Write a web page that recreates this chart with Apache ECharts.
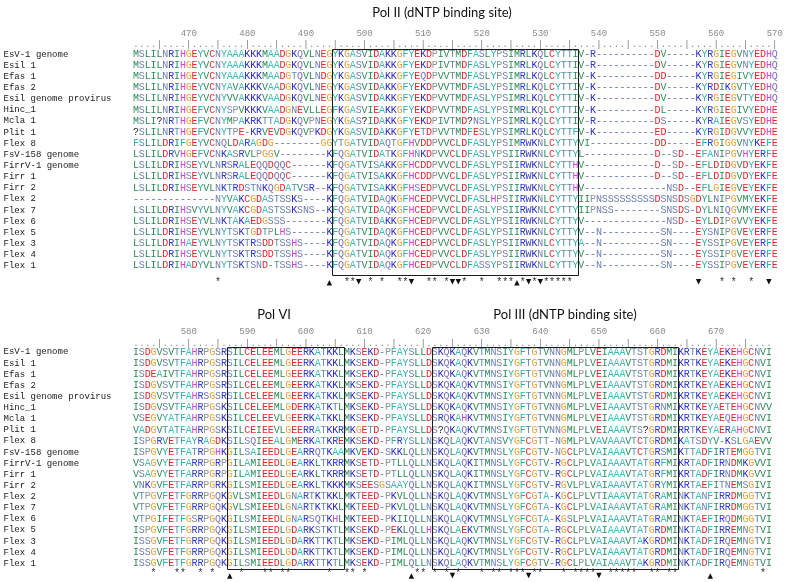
<!DOCTYPE html>
<html><head><meta charset="utf-8">
<script src="https://cdn.jsdelivr.net/npm/echarts@6/dist/echarts.min.js"></script>
<style>html,body{margin:0;padding:0;background:#fff}#c{width:787px;height:582px}</style>
</head><body><div id="c"></div>
<script>
// ---------------- data ----------------
const topNames = ["EsV-1 genome","Esil 1","Efas 1","Efas 2","Esil genome provirus","Hinc_1","Mcla 1","Plit 1","Flex 8","FsV-158 genome","FirrV-1 genome","Firr 1","Firr 2","Flex 2","Flex 7","Flex 6","Flex 5","Flex 3","Flex 4","Flex 1"];
const bottomNames = ["EsV-1 genome","Esil 1","Efas 1","Efas 2","Esil genome provirus","Hinc_1","Mcla 1","Plit 1","Flex 8","FsV-158 genome","FirrV-1 genome","Firr 1","Firr 2","Flex 2","Flex 7","Flex 6","Flex 5","Flex 3","Flex 4","Flex 1"];

const topSeqs = [
"MSLILNRIHGEYVCNYAAAKKKMAADGKQVLNEGYKGASVIDAKKGFYEKDPIVTMDFASLYPSIMRLKQLCYTTIV-R----------DV-----KYRGIEGVNYEDHQ",
"MSLILNRIHGEYVCNYAAAKKKMAADGKQVLNEGYKGASVIDAKKGFYEKDPIVTMDFASLYPSIMRLKQLCYTTIV-R----------DV-----KYRGIEGVNYEDHQ",
"MSLILNRIHGEYVCNYAAAKKKMAADGTQVLNDGYKGASVIDAKKGFYEQDPVVTMDFASLYPSIMRLKQLCYTTIV-K----------DD-----KYRGIEGIVYEDHQ",
"MSLILNRIHGEYVCNYAVAKKKVAADGKQVLNEGYKGASVIDAKKGFYEKDPVVTMDFASLYPSIMRLKQLCYTTIV-K----------DV-----KYRDIKGVTYEDHQ",
"MSLILNRIHGEYVCNYVVAKKKVAADGKQVLNEGYKGASVIDAKKGFYEKDPVVTMDFASLYPSIMRLKQLCYTTIV-K----------DV-----KYRGIEGVTYEDHQ",
"MSLILNRIHGEFVCNYSPVKKKVAADGNEVLLEGFKGASVIEAKKGFYEKDPVVTMDFASLYPSIMRLKQLCYTTIV-K----------DL-----KYRGIEGIVYEDHE",
"MSLI?NRTHGEFVCNYMPAKRKTTADGKQVPNEGYKGAS?IDAKKGFYEKDPIVTMD?NSLYPSIMRLKQLCYTTIV-R----------DS-----KYRAIEGVSYEDHE",
"?SLILNRTHGEFVCNYTPE-KRVEVDGKQVPKDGYKGASVIDAKKGFYETDPVVTMDFESLYPSIMRLKQLCYTTFV-K----------ED-----KYRGIDGVVYEDHE",
"FSLILDRIFGEYVCNQLDARAGDG--------GGYTGATVIDAQTGFHVDDPVVCLDFASLYPSIMRWKNLCYTTYVI-----------DD-----EFRGIGGVNYKEFE",
"LSLILDRVHGEFVCNKASRVLPGGV--------KFQGATVIDATKGFHNKDPVVCLDFASLYPSIIRWKNLCYTTYL------------D--SD--EFANIPGVHYERFE",
"LSLILDRIHSEYVLNRSRALEQQDQQC------KFQGATVISAKKGFHCDDPVVCLDFASLYPSIIRWKNLCYTTHV------------D--SD--EFLDIDGVDYEKFE",
"LSLILDRIHSEYVLNRSRALEQQDQQC------KFQGATVISAKKGFHCDDPVVCLDFASLYPSIIRWKNLCYTTHV------------D--SD--EFLDIDGVDYEKFE",
"LSLILDRIHSEYVLNKTRDSTNKQGDATVSR--KFQGATVISAKKGFHSEDPVVCLDFASLYPSIIRWKNLCYTTHV--------------NSD--EFLGIEGVEYEKFE",
"--------------NYVAKCGDASTSSKS----KFQGATVIDAQKGFHCEDPVVCLDFASLHPSIIRWKNLCYTTYIIPNSSSSSSSSSDSNSDSGDYLNIPGVMYEKFE",
"LSLILDRIHSVYVLNYVAKCGDASTSSKSNS--KFQGATVIDAQKGFHCEDPVVCLDFASLYPSIIRWKNLCYTTYIIPNSS--------SNSDS-DYLNIQGVMYEKFE",
"LSLILDRIHSEYVLNKTAKAEDGSSS-------KFQGATVIDAKKGFHCEDPVVCLDFASLYPSIIRWKNLCYTTYV--------------NSD--EYLDIPGVVYEKFE",
"LSLILDRIHSEYVLNYTSKTGDTPLHS------KFQGATVIDAQKGFHCEDPVVCLDFASLYPSIIRWKNLCYTTYV--N----------SN----EYSNIPGVEYERFE",
"LSLILDRIHAEYVLNYTSKTRSDDTSSHS----KFQGATVIDAQKGFHCEDPVVCLDFASLYPSIIRWKNLCYTTYA--N----------SN----EYSSIPGVEYERFE",
"LSLILDRIHSEYVLNYTSKTRSDDTSSHS----KFQGATVIDAQKGFHCEDPVVCLDFASLYPSIIRWKNLCYTTYV--N----------SN----EYSSIPGVEYERFE",
"LSLILDRIHADYVLNYTSKTSND-TSSHS----KFQGATVIDAQKGFHCEDPVVCLDFASSYPSIIRWKNLCYTTYV--N----------SN----EYSSIPGVEYERFE"
];

const bottomSeqs = [
"ISDGVSVTFAHRPGSRSILCELEEMLGEERKATKKLMKSEKD-PFAYSLLDSKQKAQKVTMNSIYGFTGTVNNGMLPLVEIAAAVTSTGRDMIKRTKEYAEKEHGCNVI",
"ISDGVSVTFAHRPGSRSILCELEEMLGEERKATKKLMKSEKD-PFAYSLLDSKQKAQKVTMNSIYGFTGTVNNGMLPLVEIAAAVTSTGRDMIKRTKEYAEKEHGCNVI",
"ISDEAIVTFAHRPGSRSILCELEEMLGEERKATKKLMKSEKD-PFAYSLLDSKQKAQKVTMNSIYGFTGTVNNGMLPLVEIAAAVTSTGRDMIKRTKEYAEKEHGCNVI",
"ISDGVSVTFAHRPGSRSILCELEEMLGEERKATKKLMKSEKD-PFAYSLLDSKQKAQKVTMNSIYGFTGTVNNGMLPLVEIAAAVTSTGRDMIKRTKEYAEKEHGCNVI",
"ISDGVSVTFAHRSGSRSILCELEEMLGEERKATKKLMKSEKD-PFAYSLLDSKQKAQKVTMNSIYGFTGTVNNGMLPLVEIAAAVTSTGRDMIKRTKEYAEKEHGCNVI",
"ISDGVSVTFAHRPGSKSILCELEEMLGDERKATKTLMKSEKD-PFAYSLLDSKQKAQKVTMNSIYGFTGTVNNGMLPLVEIAAAVTSTGRNMIKRTKEYAETEHGCNVV",
"VSEGVYATFAHRPGSKSILCELEEVLGEERKATKKLMKSEKD-PFAYSLLDSRQKAHKVTMNSIYGFTGTVNNGMLPLVEIAAAVTSTGRDMIKRTKEYAEQEHGCNVI",
"VADGVTATFAHRPGSKSILCEIEEVLGEERRATKKRMKGETD-PFAYSLLDS?QKAQKVTMNSIYGFTGTVNNGMLPLVEIAAAVTS?GRDMIRRTKEYAERAHGCNVI",
"ISPGRVETFAYRAGDKSILSQIEEALGMERKATKREMKSEKD-PFRYSLLNSKQLAQKVTANSVYGFCGTT-NGMLPLVAVAAAVTCTGRDMIKATSDYV-KSLGAEVV",
"ISPGVYETFATRPGHKGILSAIEEDLGEARRQTKAAMKVEKD-SKKLQLLNSKQLAQKVTMNSLYGFCGTV-NGCLPLVAIAAAVTCTGRSMIKTTADFIRTEMGGTVI",
"VSAGVYETFARRPGRPGILAMIEEDLGEARKLTKRRMKSETD-PTLLQLLNSKQLAQKITMNSLYGFCGTV-RGCLPLVAIAAAVTATGRFMIKRTADFIRNDMKGVVI",
"VSAGVYETFARRPGRPGILAMIEEDLGEARKLTKRRMKSETD-PTLLQLLNSKQLAQKITMNSLYGFCGTV-RGCLPLVAIAAAVTATGRFMIKRTADFIRNDMKGVVI",
"VNKGVFETFARRPGRKGILSMIEEDLGEARKLTKKKMKSEESGSAAYQLLNSKQLAQKITMNSLYGFCGTV-RGVLPLVAIAAAVTATGRYMIKRTAEFITNEMSGIVI",
"VTPGVFETFGRRPGQKGVLSMIEEDLGNARTKTKKLMKTEED-PKVLQLLNSKQLAQKVTMNSLYGFCGTA-KGCLPLVTIAAAVTATGRAMINKTANFIRRDMGGTVI",
"VTPGVFETFGRRPGQKGVLSMIEEDLGNARTKTKKLMKTEED-PKVLQLLNSKQLAQKVTMNSLYGFCGTA-KGCLPLVAIAAAVTATGRAMINKTANFIRRDMGGTVI",
"VTPGIFETFGSRPGQKGILSMIEEDLGNARSQTKHLMKTEED-PKIIQLLNSKQLAQKVTMNSLYGFCGTA-KGSLPLVAIAAAVTATGRAMINKTAEFIRQDMGGTVI",
"ISPGVFETFGRRPGQKGILSMIEEDLGDARKSTKTLMKSEKD-PEKLQLLHSKQLAEKVTMNSLYGFCGTA-RGCLPLVAIAAAVTATGRDMINKTADFIRREMNGTVI",
"ISSGVFETFGRRPGQKGILSMIEEDLGDARKTTKTLMKSEKD-PIMLQLLNSKQLAQKVTMNSLYGFCGTV-RGCLPLVAIAAAVTAKGRDMINKTADFIRQEMNGTVI",
"ISSGVFETFGRRPGQKGILSMIEEDLGDARKTTKTLMKSEKD-PIMLQLLNSKQLAQKVTMNSLYGFCGTV-RGCLPLVAIAAAVTATGRDMINKTADFIRQEMNGTVI",
"ISSGVFETFGRRPGQKGILSMIEEDLGDARKTTKTLMKSEKD-PIMLQLLNSKQLAQKVTMNSLYGFCGTV-RGCLPLVAIAAAVTAKGRDMINKTADFIRQEMNGTVI"
];

const topStart = 461, bottomStart = 571;
const topRulerLen = 110, bottomRulerLen = 109;
const topTicks = [470,480,490,500,510,520,530,540,550,560,570];
const bottomTicks = [580,590,600,610,620,630,640,650,660,670];

const topStars = [475,497,498,501,503,506,507,511,512,514,517,520,523,524,525,527,529,531,532,533,534,535,561,563,566];
const topUp = [494,526];
const topDown = [499,508,515,516,528,530,557,569];
const bottomStars = [574,578,579,582,584,589,593,594,596,597,604,607,608,610,619,620,622,624,626,630,632,633,635,636,637,639,640,644,646,647,648,649,652,653,654,655,656,659,660,662,663,678];
const bottomUp = [587,618,669];
const bottomDown = [625,638,650];

const topBoxes = [[495,536]];
const bottomBoxes = [[587,606],[622,663]];

const titleTop = "Pol II (dNTP binding site)";
const titlePolVI = "Pol VI";
const titlePolIII = "Pol III (dNTP binding site)";

// ---------------- style ----------------
const COLORS = {A:'#3EBFB8',C:'#D8353C',D:'#E2262D',E:'#E2262D',F:'#2EAFA4',G:'#E6A23C',H:'#CF45CF',
  I:'#2E8B57',K:'#2424C4',L:'#2E8B57',M:'#2E8B57',N:'#6C7CB0',P:'#8C9494',Q:'#7A74B8',R:'#2F3CCB',
  S:'#6C7CB0',T:'#5E8CA6',V:'#2E8B57',W:'#3A3ABF',Y:'#2EAFA4','-':'#6C7CB0','?':'#222'};
const PITCH = 5.86, ROWH = 11.13;
const SEQ_FONT = 'normal 10px "Liberation Mono"';
const MONO = 'Liberation Mono';

const blocks = [
  {start: topStart, seqs: topSeqs, names: topNames, rulerLen: topRulerLen, ticks: topTicks,
   stars: topStars, up: topUp, down: topDown, boxes: topBoxes,
   row0: 54.3, rulerY: -0.84, starY: 20.48, downY: 20.43, upY: 20.52, boxTop: -0.45, boxBot: 19.89},
  {start: bottomStart, seqs: bottomSeqs, names: bottomNames, rulerLen: bottomRulerLen, ticks: bottomTicks,
   stars: bottomStars, up: bottomUp, down: bottomDown, boxes: bottomBoxes,
   row0: 352, rulerY: -0.79, starY: 19.88, downY: 20.08, upY: 20.13, boxTop: -0.42, boxBot: 19.5}
];

const grids = [], xAxes = [], yAxes = [], series = [];
blocks.forEach((b, bi) => {
  const nRows = b.seqs.length;
  const gLeft = 136 - PITCH;
  grids.push({left: gLeft, width: 111 * PITCH, top: b.row0 - ROWH / 2, height: nRows * ROWH});
  xAxes.push({type: 'value', gridIndex: bi, position: 'top', min: b.start - 1, max: b.start + 110, interval: 10,
    axisLine: {show: false}, axisTick: {show: false}, splitLine: {show: false},
    axisLabel: {show: true, margin: 10.5, color: '#8a8a8a', fontFamily: MONO, fontSize: 9,
      formatter: v => b.ticks.indexOf(v) >= 0 ? String(v) : ''}});
  yAxes.push({type: 'value', gridIndex: bi, min: -0.5, max: nRows - 0.5, inverse: true, show: false});
  yAxes.push({type: 'category', gridIndex: bi, data: b.names, inverse: true, position: 'left',
    axisLine: {show: false}, axisTick: {show: false}, splitLine: {show: false},
    axisLabel: {interval: 0, align: 'left', margin: 136 - PITCH - 3.5, color: '#1a1a1a', fontFamily: MONO, fontSize: 9}});

  const items = [];
  b.seqs.forEach((s, r) => {
    for (let i = 0; i < s.length; i++) items.push({k: 0, x: b.start + i, y: r, ch: s[i]});
  });
  for (let i = 0; i < b.rulerLen; i++) {
    const p = b.start + i;
    items.push({k: 1, x: p, y: b.rulerY, ch: p % 5 === 0 ? '|' : '.'});
  }
  b.stars.forEach(p => items.push({k: 2, x: p, y: b.starY, ch: '*'}));
  b.up.forEach(p => items.push({k: 3, x: p, y: b.upY}));
  b.down.forEach(p => items.push({k: 4, x: p, y: b.downY}));

  series.push({
    type: 'custom', xAxisIndex: bi, yAxisIndex: bi * 2, silent: true, animation: false, clip: false,
    data: items.map(it => [it.x, it.y]),
    renderItem: (params, api) => {
      const it = items[params.dataIndex];
      const pt = api.coord([api.value(0), api.value(1)]);
      if (it.k === 0) {
        return {type: 'text', x: pt[0], y: pt[1], style: {text: it.ch, fill: COLORS[it.ch] || '#333', font: SEQ_FONT, align: 'center', verticalAlign: 'middle'}};
      } else if (it.k === 1) {
        return {type: 'text', x: pt[0], y: pt[1], style: {text: it.ch, fill: '#808080', font: 'normal 9px "Liberation Mono"', align: 'center', verticalAlign: 'middle'}};
      } else if (it.k === 2) {
        return {type: 'text', x: pt[0], y: pt[1], style: {text: '*', fill: '#333', font: SEQ_FONT, align: 'center', verticalAlign: 'middle'}};
      } else if (it.k === 3) {
        return {type: 'polygon', shape: {points: [[pt[0] - 2.7, pt[1] + 2.8], [pt[0] + 2.7, pt[1] + 2.8], [pt[0], pt[1] - 2.8]]}, style: {fill: '#111'}};
      } else {
        return {type: 'polygon', shape: {points: [[pt[0] - 2.7, pt[1] - 2.8], [pt[0] + 2.7, pt[1] - 2.8], [pt[0], pt[1] + 2.8]]}, style: {fill: '#111'}};
      }
    }
  });
  series.push({
    type: 'custom', xAxisIndex: bi, yAxisIndex: bi * 2, silent: true, animation: false, clip: false,
    data: b.boxes.map(bx => [bx[0], bx[1]]),
    renderItem: (params, api) => {
      const p1 = api.coord([api.value(0) - 0.5, b.boxTop]);
      const p2 = api.coord([api.value(1) + 0.5, b.boxBot]);
      return {type: 'rect', shape: {x: Math.round(p1[0]) + 0.5, y: Math.round(p1[1]) + 0.5, width: Math.round(p2[0] - p1[0]), height: Math.round(p2[1] - p1[1])},
        style: {fill: 'none', stroke: '#1c1c1c', lineWidth: 1}};
    }
  });
});

const chart = echarts.init(document.getElementById('c'), null, {renderer: 'canvas'});
chart.setOption({
  animation: false,
  backgroundColor: '#ffffff',
  grid: grids, xAxis: xAxes, yAxis: yAxes, series: series,
  graphic: [
    {type: 'text', x: 442, y: 12.5, style: {text: titleTop, font: 'normal 13px Lato', fill: '#111', align: 'center', verticalAlign: 'middle'}},
    {type: 'text', x: 274, y: 315, style: {text: titlePolVI, font: 'normal 13px Lato', fill: '#111', align: 'center', verticalAlign: 'middle'}},
    {type: 'text', x: 565, y: 315, style: {text: titlePolIII, font: 'normal 13px Lato', fill: '#111', align: 'center', verticalAlign: 'middle'}}
  ]
});
</script></body></html>
